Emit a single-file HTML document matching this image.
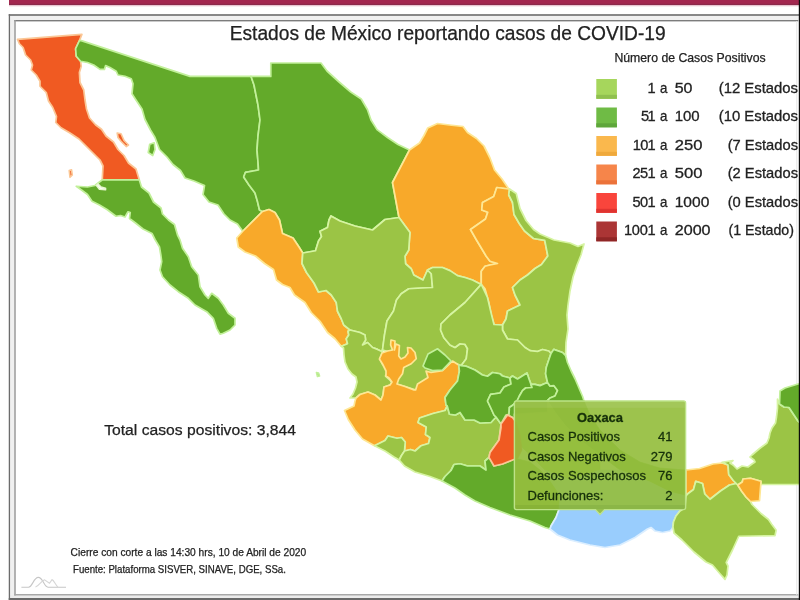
<!DOCTYPE html>
<html><head><meta charset="utf-8"><title>COVID-19 Mexico</title>
<style>
html,body{margin:0;padding:0;background:#fff;}
body{width:800px;height:600px;overflow:hidden;font-family:"Liberation Sans",sans-serif;}
svg{display:block;filter:blur(0.3px)}
text{font-family:"Liberation Sans",sans-serif;}
</style></head><body>
<svg width="800" height="600" viewBox="0 0 800 600">
<defs>
<clipPath id="outTip"><path clip-rule="evenodd" d="M0,0H800V600H0Z M515,401.5H685V509H515Z"/></clipPath>
<clipPath id="inTip"><rect x="514" y="400.5" width="172" height="109.5"/></clipPath>
<filter id="soft" x="-5%" y="-5%" width="110%" height="110%"><feGaussianBlur stdDeviation="0.45"/></filter>
</defs>
<rect width="800" height="600" fill="#fff"/>
<!-- frame -->
<rect x="9" y="0" width="790" height="5" fill="#a3274f"/>
<rect x="9" y="3.8" width="790" height="1.2" fill="#8c2a4b"/>
<rect x="9" y="5" width="790" height="1.3" fill="#e8c6d1"/>
<rect x="10" y="15.5" width="789" height="5" fill="#f0f0f0"/>
<rect x="10" y="15.5" width="4.5" height="583" fill="#f0f0f0"/>
<rect x="10" y="595.3" width="789" height="3" fill="#ececec"/>
<rect x="8.75" y="14.2" width="790.5" height="1.6" fill="#6c6c6c"/>
<rect x="8.75" y="14.2" width="1.3" height="586" fill="#6c6c6c"/>
<rect x="14.25" y="20" width="784" height="1.4" fill="#7c7c7c"/>
<rect x="14.25" y="20" width="1.5" height="575.5" fill="#9a9a9a"/>
<rect x="14.25" y="594" width="784" height="1.5" fill="#a8a8a8"/>
<rect x="8.75" y="598" width="791" height="2" fill="#6a6a6a"/>
<rect x="796.3" y="21" width="1" height="574" fill="#e6e6e6"/>
<!-- map -->
<g stroke-width="1.7" stroke-linejoin="round" filter="url(#soft)" clip-path="url(#outTip)">
<polygon points="17.5,39.4 81.9,34.4 79.4,40.6 75.6,48.75 76.25,56.25 80.6,61.25 81.25,66.25 79.4,72.5 80,82.5 83.75,90 85,100 86.5,109 89.5,118 95.5,124.75 101.5,129.25 106,136 113.5,142 118,149.5 124,155.5 128.5,163 136,169 139.25,179.8 102.25,179.8 103,166 100,160 92.5,152.5 86.5,146.5 79,139 70,133 61,127.75 55.75,122.5 56.5,116.5 52.75,107.5 48.5,101 46.25,92.5 40,86.25 40,81.25 36.25,75 31.25,70 32.5,65 30.6,60 25.6,55 23.1,47.5 19.4,43.75" fill="#f05a24" stroke="#fbc796"/>
<polygon points="81.25,40.6 190,76.4 251,76.3 254,85 258,105 260,120 258,136 257,150 258,162 258.5,170 245.5,172.3 243.7,177 249,185 255,193 257.5,201.5 259.5,210 262.5,211.5 242.75,231.25 237.5,224 230,220 224,214 218,205 209,202 203,194.5 204.5,185.5 194,181 185,178 180.5,170.5 173,164.5 167,157 159.5,149.5 155,137.5 150.5,130 145,119.5 142,109 136,100 132,93.75 133,83.75 131.25,78.75 125,76.25 118,75 116.25,71.25 110,67.5 105.6,65.6 104.4,69.4 100,69.4 93.75,65 87.5,62.5 80.6,61.25 76.25,56.25 75.6,48.75 79.4,40.6" fill="#63aa2a" stroke="#c2f09a"/>
<polygon points="251,76.3 270.8,76.4 270.8,63 321,63 327,71 338.5,81.5 350.75,92 361.25,99 367.4,109.5 371,120 377,129.6 387.5,137.5 398,144.5 409.5,150 392.5,182.5 399,217.5 385,219.5 372.5,230 355,226 340,221 331,216 329,220 327.5,227.5 320,231.25 321.5,236.5 318.5,241 315.5,250.75 302.75,253 299,247 293,238 282.5,233.5 279.5,220 275,212.5 269,209.5 262.5,211.5 262.5,211.5 259.5,210 257.5,201.5 255,193 249,185 243.7,177 245.5,172.3 258.5,170 258,162 257,150 258,136 260,120 258,105 254,85 251,76.3" fill="#63aa2a" stroke="#c2f09a"/>
<polygon points="409.5,150 419.5,143 424,135.5 427.75,128 437.5,123.5 449.5,125 463,126.5 467.5,132.5 476.5,138.5 484,146 490,158 494.5,170 502,179 508.75,189 496.75,187.5 493.75,196.5 482.5,202.5 481.75,210 487.75,212.25 485.5,219 470.5,229.5 476.5,240 482.5,250 486.25,256.25 490,261.25 497.5,263.5 490,265 485,266.25 481.25,271.25 481.25,284.4 472.5,280 465,277.5 457.5,275.6 450,270.6 442.5,267.5 432.5,267.5 427.5,270 423,280 413.75,275 411.25,268.75 405.6,263.75 405,256.25 408.75,250 409.4,240 410,232.5 399,217.5 392.5,182.5" fill="#f8a92a" stroke="#fee794"/>
<polygon points="508.75,189 509.5,189 508.75,195 512.5,202.5 514,214.5 519.25,223.5 524.5,231 533.5,238.5 544.75,240.3 547.8,256 541.5,264.5 535,268.5 527.5,275 520,280 512.5,287.5 515,295 520,305 507.5,311 506,319 502.5,325 494,324.5 491.25,315 488.75,302.5 485,288.75 481.25,284.4 481.25,284.4 481.25,271.25 485,266.25 490,265 497.5,263.5 490,261.25 486.25,256.25 482.5,250 476.5,240 470.5,229.5 485.5,219 487.75,212.25 481.75,210 482.5,202.5 493.75,196.5 496.75,187.5 508.75,189" fill="#f8a92a" stroke="#fee794"/>
<polygon points="509.5,189 516.25,193.5 520,208.5 526,220.5 533.5,229.5 540,234 554,240 570,243 578,246.5 584,244 581,255 577,265 573,277 570,291 568,305 567,315 568,329 566,342.5 565.6,355.6 562.5,352.5 553.75,349.4 551,353.5 548.75,351 542.5,349.5 537.5,351.5 530,350.6 525,347.5 517.5,340 507.5,339 502.5,330 502.5,325 502.5,325 506,319 507.5,311 520,305 515,295 512.5,287.5 520,280 527.5,275 535,268.5 541.5,264.5 547.8,256 544.75,240.3 533.5,238.5 524.5,231 519.25,223.5 514,214.5 512.5,202.5 508.75,195" fill="#9bc444" stroke="#d6f4a2"/>
<polygon points="242.75,231.25 262.5,211.5 269,209.5 275,212.5 279.5,220 282.5,233.5 293,238 299,247 302.75,253 302,263.5 306.5,272.5 314,283 318.5,292 326,290.5 331.25,295 336.25,302.5 337.5,311.25 341.25,318.75 343.75,325 350,330 348,331.25 348.75,335 346.25,338.75 347.5,343.75 341.25,346.25 335,338.75 327.5,332.5 320,321.25 311.25,312.5 305,302.5 294.5,295 290,287.5 282.5,284.5 276.5,280 273.5,269.5 264.5,263.5 255.5,256 245,252 238.25,247 236.75,238" fill="#f8a92a" stroke="#fee794"/>
<polygon points="302.75,253 315.5,250.75 318.5,241 321.5,236.5 320,231.25 327.5,227.5 329,220 331,216 340,221 355,226 372.5,230 385,219.5 399,217.5 410,232.5 409.4,240 408.75,250 405,256.25 405.6,263.75 411.25,268.75 413.75,275 423,280 427.5,270 431.25,273.75 432.5,287.5 422.5,288 408.75,288.75 401.25,293.75 396.5,300 393.5,311 387,321 384.5,335 382.5,350 381.25,351.25 377.5,349.4 372.5,347.5 367.5,342.5 362.5,345 365.6,340 365,335 360,332.5 350,330 350,330 343.75,325 341.25,318.75 337.5,311.25 336.25,302.5 331.25,295 326,290.5 318.5,292 314,283 306.5,272.5 302,263.5 302.75,253" fill="#9bc444" stroke="#d6f4a2"/>
<polygon points="427.5,270 432.5,267.5 442.5,267.5 450,270.6 457.5,275.6 465,277.5 472.5,280 481.25,284.4 465,302.5 450,315 441,324 440.6,330 443.75,337.5 450,345 455,347.5 460,343.75 465,344.4 467.5,348.75 466.25,358.75 461.25,365.6 452.5,362.5 442.5,371 430,372.5 427.5,379 420,384 416,390 405,386.5 397,384 390,352 382.5,350 384.5,335 387,321 393.5,311 396.5,300 401.25,293.75 408.75,288.75 422.5,288 432.5,287.5 431.25,273.75 427.5,270" fill="#9bc444" stroke="#d6f4a2"/>
<polygon points="481.25,284.4 487.5,297.5 491,312.5 494,324.5 502.5,325 502.5,330 507.5,339 517.5,340 525,347.5 530,350.6 537.5,351.5 542.5,349.5 548.75,351 551,353.5 548.75,360 546.25,367.5 545.6,373.75 547.5,382.5 545,383.5 540,385.6 535,384.4 531,384.4 529,379 527,373 517.5,379 512.5,376 510,378 502.5,376 500,373.75 492.5,372.5 487.5,376.25 482.5,375 475,370 466.25,366.25 461.25,365.6 461.25,365.6 466.25,358.75 467.5,348.75 465,344.4 460,343.75 455,347.5 450,345 443.75,337.5 440.6,330 441,324 450,315 465,302.5 481.25,284.4" fill="#9bc444" stroke="#d6f4a2"/>
<polygon points="341.25,346.25 347.5,343.75 346.25,338.75 348.75,335 348,331.25 350,330 360,332.5 365,335 365.6,340 362.5,345 367.5,342.5 372.5,347.5 377.5,349.4 381.25,351.25 382.5,350 382,353 380,359 382.5,364 386,367 387,373 385.5,376 390,380 392,383 390,385 384,387 383,395 381,400 375,395 368,392 360,394.5 356,398 350,398 353,394 355.5,388 357,382 356,377 352,374 348,369 345,362 344,355 343.5,348" fill="#9bc444" stroke="#d6f4a2"/>
<polygon points="356,398 360,394.5 368,392 375,395 381,400 383,395 384,387 390,385 392,382 389,378 386,376 386,371 382.5,364 379.4,359 382,353 387.5,351 392.5,350 390.6,345 391,340 395,341 394.4,350 396,344 399.4,345.6 398.75,356 401,359 405,357 408,353 407.5,347.5 411,348 415,352.5 416.25,358.75 411.25,363.75 403.75,367.5 402.5,373.75 398.75,379 397,384 405,386.5 414,390 415.6,390 417.5,384 428,377.5 426,371 431,372.5 442.5,370.6 452.5,361 458.75,365 459.4,371 457.5,381 450,390 445,397.5 446,405 447.25,406 445,410.5 433,413.5 419.5,418 418,422.5 426.25,427 425.5,434.5 430,437.5 428.5,443.5 421,445.75 415,451 410.5,449.5 404.5,451 405.25,442 401.5,437.5 397,438.25 388,436 385,440.5 374.5,445.75 362.5,439 355,430 348.25,419.5 344.5,410.5 354,406 355,401" fill="#f8a92a" stroke="#fee794"/>
<polygon points="423,366 428,354 437.5,348.75 445,355 451,361 442.5,370 432.5,370.6 425,368" fill="#63aa2a" stroke="#c2f09a"/>
<polygon points="374.5,445.75 385,440.5 388,436 397,438.25 401.5,437.5 405.25,442 404.5,451 401.5,455.5 399.25,460 394,457 385,451" fill="#9bc444" stroke="#d6f4a2"/>
<polygon points="404.5,451 410.5,449.5 415,451 421,445.75 428.5,443.5 430,437.5 425.5,434.5 426.25,427 418,422.5 419.5,418 433,413.5 445,410.5 447.25,406 449.5,414.25 455.5,415 460,412.5 465,420 474,420 480,423 491,422.5 496,417 501,424 499,440 490,452.5 489,457.5 489,457.5 485,461 486,470 480,466 467.5,466 460,463.75 454,464.5 451,470.5 445,476.5 442,481 430,476.5 415,472 404.5,466 399.25,460 401.5,455.5" fill="#9bc444" stroke="#d6f4a2"/>
<polygon points="461.25,365.6 466.25,366.25 475,370 482.5,375 487.5,376.25 492.5,372.5 500,373.75 502.5,376 510,378 511,384 504,387 500,393 490.6,394.4 487.5,401 490.6,407.5 494,415 496,417 491,422.5 480,423 474,420 465,420 460,412.5 455.5,415 449.5,414.25 447.25,406 446,405 445,397.5 450,390 457.5,381 459.4,371 458.75,365" fill="#63aa2a" stroke="#c2f09a"/>
<polygon points="510,378 512.5,376 517.5,379 527,373 529,379 531,384.4 532,387.5 525.6,388 522.5,390.6 519.4,396 517.5,400 513,405 509.4,407.5 509,414.4 506,415 501,424 496,417 494,415 490.6,407.5 487.5,401 490.6,394.4 500,393 504,387 511,384" fill="#63aa2a" stroke="#c2f09a"/>
<polygon points="532,387.5 531,384.4 535,384.4 540,385.6 545,383.5 547.5,382.5 550,386 553.75,385.6 557.5,390.6 555,396 550,398 547.5,400.6 547.5,412 520,430 516,422 512.5,417.5 507.5,415 509,414.4 509.4,407.5 513,405 517.5,400 519.4,396 522.5,390.6 525.6,388" fill="#63aa2a" stroke="#c2f09a"/>
<polygon points="553.75,349.4 562.5,352.5 565.6,355.6 567.5,362.5 571.25,371.25 575,378.75 578.75,387.5 582.5,396.25 583.75,400 590,415 600,430 620,450 640,462 660,468 686,470 686,496 670,492 650,482 620,470 600,455 580,440 565,425 555,412 547.5,400.6 550,398 555,396 557.5,390.6 553.75,385.6 550,386 547.5,382.5 545.6,373.75 546.25,367.5 548.75,360 551,353.5" fill="#63aa2a" stroke="#c2f09a"/>
<polygon points="547.5,400.6 555,412 565,425 580,440 600,455 600,470 570,480 545,470 530,455 514.5,440 514.5,414 547.5,412" fill="#9bc444" stroke="#d6f4a2"/>
<polygon points="442,481 445,476.5 451,470.5 454,464.5 460,463.75 467.5,466 480,466 486,470 485,461 489,457.5 491,460 494,466 502.5,464 510,461 514.5,458 530,462 540,470 550,480 560,495 559,509.5 556,517.5 551,526 550,529 545,527.5 530,521 510,515 490,507.5 475,501 465,495 455,488" fill="#63aa2a" stroke="#c2f09a"/>
<polygon points="550,529 551,526 556,517.5 559,509.5 560,495 550,480 545,470 570,480 600,470 620,470 650,482 670,492 686,496 685,508 680,511 676,516 673.5,522 673,527 672,529 670,531 662.5,532.5 655,531 651,527.5 647.5,529 635,537.5 620,545 605,547.5 590,545 570,540 557.5,535" fill="#99cdfd" stroke="#dbeeff"/>
<polygon points="507.5,415 512.5,417.5 516,422 520,435 522,450 518,458 510,461 502.5,464 494,466 489,457.5 490,452.5 499,440 501,427.5 501,424" fill="#f05a24" stroke="#fbc796"/>
<polygon points="686,470 699.5,468.5 713,464 722,463 728,465 728.75,474.5 733.25,480.5 736.25,483.5 729.5,485 720.5,491 710,499.25 704.75,494 702.5,483.5 695.75,481.25 693.5,489.5 687.5,494 686,496" fill="#f8a92a" stroke="#fee794"/>
<polygon points="686,496 687.5,494 693.5,489.5 695.75,481.25 702.5,483.5 704.75,494 710,499.25 720.5,491 729.5,485 736.25,483.5 737.75,485 741.5,491 746,497 750.5,501.5 752,504.5 761,513.5 768.5,519.5 771.5,524 776,530 776,531 775,535.6 738.75,536.25 732.5,550 726.25,562.5 728,566 727,575 725,579.4 720,573.75 712.5,565 706,562 694,552 682,540 674,533 673,527 673.5,522 676,516 680,511 685,508" fill="#9bc444" stroke="#d6f4a2"/>
<polygon points="728,465 722,462.3 733,460.5 730,463 733,465 737,469 742,466 748,467 752,464 755,462 754,460 750,457 752,455 759,449 767,443 769,438 770,433 772,428 775.5,423 776.5,417 777.5,408 777.5,399 779.5,404 784,407 789,407.5 794,415 798,421 801,424 801,484.5 761,484.5 761,481.25 750.5,478.25 743,479 742.25,482 737.75,485 736.25,483.5 733.25,480.5 728.75,474.5" fill="#9bc444" stroke="#d6f4a2"/>
<polygon points="743,479 750.5,478.25 761,481.25 759.5,500.75 750.5,501.5 746,497 741.5,491 737.75,485 742.25,482" fill="#f8a92a" stroke="#fee794"/>
<polygon points="780,391 785,388 798,384 801,383.5 801,424 798,421 794,415 789,407.5 784,407 779.5,404" fill="#63aa2a" stroke="#c2f09a"/>
<polygon points="102.5,179.8 139.25,179.8 141.5,187 149,193 153.5,202 161,208 162.5,214 168.5,220 174.5,224.5 177.5,235 180,240 182.5,248.3 188.3,256.7 191.7,266.7 198.3,275 200,286.7 205,295 208.3,298.3 211.7,293.3 218.3,298.3 223.3,305 228.3,313.3 235,318.3 235,325 230,330 223.3,333.3 220,334.2 216.7,328.3 213.3,318.3 206.7,311.7 195,305 188.3,298.3 178.3,291.7 170,285 162.5,276.7 160,270 161.7,261.7 161,256 159.5,247 155,239.5 152,233.5 143,229 135.5,223 129.5,218.5 130.25,212.5 128,211.75 125,217 120.5,215.5 116,216.25 107,209.5 99.5,205 92,201.25 87.5,194.5 81.5,190 76.25,186.25 87.5,187 95,185.5 98.75,182.5" fill="#63aa2a" stroke="#c2f09a"/>
<polygon points="98,184 101,187 105.5,188.2 105.5,189.7 99.5,189.25 96.5,185.5" fill="#ffffff" stroke="#e8f6d0"/>
<polygon points="117.25,133 121,133.75 124,140.5 128.5,145 126.25,146.5 121,141.25 118,137.5" fill="#f05a24" stroke="#fbc796"/>
<polygon points="148.25,152.5 149.75,144.25 154.25,142.75 155,149.5 152.75,155.5" fill="#63aa2a" stroke="#c2f09a"/>
<polygon points="69.25,170.5 71.5,169.75 72.25,175 70,177.25" fill="#f05a24" stroke="#fbc796"/>
<polygon points="316.5,372.5 318.5,373 319.5,376 317.5,376.5" fill="#63aa2a" stroke="#c2f09a"/>
</g>
<g stroke-width="0.6" clip-path="url(#inTip)">
<polygon points="532,387.5 531,384.4 535,384.4 540,385.6 545,383.5 547.5,382.5 550,386 553.75,385.6 557.5,390.6 555,396 550,398 547.5,400.6 547.5,412 520,430 516,422 512.5,417.5 507.5,415 509,414.4 509.4,407.5 513,405 517.5,400 519.4,396 522.5,390.6 525.6,388" fill="#63aa2a" stroke="#63aa2a"/>
<polygon points="553.75,349.4 562.5,352.5 565.6,355.6 567.5,362.5 571.25,371.25 575,378.75 578.75,387.5 582.5,396.25 583.75,400 590,415 600,430 620,450 640,462 660,468 686,470 686,496 670,492 650,482 620,470 600,455 580,440 565,425 555,412 547.5,400.6 550,398 555,396 557.5,390.6 553.75,385.6 550,386 547.5,382.5 545.6,373.75 546.25,367.5 548.75,360 551,353.5" fill="#63aa2a" stroke="#63aa2a"/>
<polygon points="547.5,400.6 555,412 565,425 580,440 600,455 600,470 570,480 545,470 530,455 514.5,440 514.5,414 547.5,412" fill="#9bc444" stroke="#9bc444"/>
<polygon points="442,481 445,476.5 451,470.5 454,464.5 460,463.75 467.5,466 480,466 486,470 485,461 489,457.5 491,460 494,466 502.5,464 510,461 514.5,458 530,462 540,470 550,480 560,495 559,509.5 556,517.5 551,526 550,529 545,527.5 530,521 510,515 490,507.5 475,501 465,495 455,488" fill="#63aa2a" stroke="#63aa2a"/>
<polygon points="550,529 551,526 556,517.5 559,509.5 560,495 550,480 545,470 570,480 600,470 620,470 650,482 670,492 686,496 685,508 680,511 676,516 673.5,522 673,527 672,529 670,531 662.5,532.5 655,531 651,527.5 647.5,529 635,537.5 620,545 605,547.5 590,545 570,540 557.5,535" fill="#99cdfd" stroke="#99cdfd"/>
<polygon points="507.5,415 512.5,417.5 516,422 520,435 522,450 518,458 510,461 502.5,464 494,466 489,457.5 490,452.5 499,440 501,427.5 501,424" fill="#f05a24" stroke="#f05a24"/>
<polygon points="686,470 699.5,468.5 713,464 722,463 728,465 728.75,474.5 733.25,480.5 736.25,483.5 729.5,485 720.5,491 710,499.25 704.75,494 702.5,483.5 695.75,481.25 693.5,489.5 687.5,494 686,496" fill="#f8a92a" stroke="#f8a92a"/>
<polygon points="686,496 687.5,494 693.5,489.5 695.75,481.25 702.5,483.5 704.75,494 710,499.25 720.5,491 729.5,485 736.25,483.5 737.75,485 741.5,491 746,497 750.5,501.5 752,504.5 761,513.5 768.5,519.5 771.5,524 776,530 776,531 775,535.6 738.75,536.25 732.5,550 726.25,562.5 728,566 727,575 725,579.4 720,573.75 712.5,565 706,562 694,552 682,540 674,533 673,527 673.5,522 676,516 680,511 685,508" fill="#9bc444" stroke="#9bc444"/>
</g>
<g fill="#222" stroke="#222" stroke-width="0.25">
<text x="229.7" y="40.2" font-size="19.3" textLength="436" lengthAdjust="spacingAndGlyphs" id="title">Estados de México reportando casos de COVID-19</text>
<text x="614.4" y="61.7" font-size="12.1" textLength="151.2" lengthAdjust="spacingAndGlyphs" id="leghead">Número de Casos Positivos</text>
<text x="104.2" y="435.4" font-size="15.4" textLength="191.8" lengthAdjust="spacingAndGlyphs" id="total">Total casos positivos: 3,844</text>
<text x="70.6" y="556.3" font-size="10.2" textLength="235.6" lengthAdjust="spacingAndGlyphs" id="cierre">Cierre con corte a las 14:30 hrs, 10 de Abril de 2020</text>
<text x="73" y="573" font-size="10.2" textLength="212.9" lengthAdjust="spacingAndGlyphs" id="fuente">Fuente: Plataforma SISVER, SINAVE, DGE, SSa.</text>
</g>
<g id="legend" fill="#222" stroke="#222" stroke-width="0.3">
<rect x="596.3" y="79" width="20.6" height="19.8" fill="#a6d65c" stroke="none"/><rect x="596.3" y="94.8" width="20.6" height="4" fill="#90c04f" stroke="none"/>
<text x="655.6" y="92.7" font-size="14.6" text-anchor="end">1</text><text x="660" y="92.7" font-size="14.6" textLength="7.4" lengthAdjust="spacingAndGlyphs">a</text><text x="674.7" y="92.7" font-size="14.6" textLength="17.8" lengthAdjust="spacingAndGlyphs">50</text><text x="718.7" y="92.7" font-size="14.6" textLength="79.3" lengthAdjust="spacingAndGlyphs">(12 Estados</text>
<rect x="596.3" y="107.5" width="20.6" height="19.8" fill="#6fbb45" stroke="none"/><rect x="596.3" y="123.3" width="20.6" height="4" fill="#5ea63b" stroke="none"/>
<text x="640.9" y="121.2" font-size="14.6" textLength="14.700000000000001" lengthAdjust="spacing">51</text><text x="660" y="121.2" font-size="14.6" textLength="7.4" lengthAdjust="spacingAndGlyphs">a</text><text x="674.7" y="121.2" font-size="14.6" textLength="25" lengthAdjust="spacingAndGlyphs">100</text><text x="718.7" y="121.2" font-size="14.6" textLength="79.3" lengthAdjust="spacingAndGlyphs">(10 Estados</text>
<rect x="596.3" y="136" width="20.6" height="19.8" fill="#fab84d" stroke="none"/><rect x="596.3" y="151.8" width="20.6" height="4" fill="#efa93c" stroke="none"/>
<text x="632.8" y="149.7" font-size="14.6" textLength="22.8" lengthAdjust="spacing">101</text><text x="660" y="149.7" font-size="14.6" textLength="7.4" lengthAdjust="spacingAndGlyphs">a</text><text x="674.7" y="149.7" font-size="14.6" textLength="27.7" lengthAdjust="spacingAndGlyphs">250</text><text x="727.7" y="149.7" font-size="14.6" textLength="70.3" lengthAdjust="spacingAndGlyphs">(7 Estados</text>
<rect x="596.3" y="164.5" width="20.6" height="19.8" fill="#f6854a" stroke="none"/><rect x="596.3" y="180.3" width="20.6" height="4" fill="#eb723a" stroke="none"/>
<text x="632.4" y="178.2" font-size="14.6" textLength="23.2" lengthAdjust="spacing">251</text><text x="660" y="178.2" font-size="14.6" textLength="7.4" lengthAdjust="spacingAndGlyphs">a</text><text x="674.7" y="178.2" font-size="14.6" textLength="27.7" lengthAdjust="spacingAndGlyphs">500</text><text x="727.7" y="178.2" font-size="14.6" textLength="70.3" lengthAdjust="spacingAndGlyphs">(2 Estados</text>
<rect x="596.3" y="193" width="20.6" height="19.8" fill="#f9453c" stroke="none"/><rect x="596.3" y="208.8" width="20.6" height="4" fill="#e03430" stroke="none"/>
<text x="632.4" y="206.7" font-size="14.6" textLength="23.2" lengthAdjust="spacing">501</text><text x="660" y="206.7" font-size="14.6" textLength="7.4" lengthAdjust="spacingAndGlyphs">a</text><text x="674.7" y="206.7" font-size="14.6" textLength="34.6" lengthAdjust="spacingAndGlyphs">1000</text><text x="727.7" y="206.7" font-size="14.6" textLength="70.3" lengthAdjust="spacingAndGlyphs">(0 Estados</text>
<rect x="596.3" y="221.5" width="20.6" height="19.8" fill="#ab3535" stroke="none"/><rect x="596.3" y="237.3" width="20.6" height="4" fill="#8f2626" stroke="none"/>
<text x="624.0" y="235.2" font-size="14.6" textLength="31.6" lengthAdjust="spacing">1001</text><text x="660" y="235.2" font-size="14.6" textLength="7.4" lengthAdjust="spacingAndGlyphs">a</text><text x="674.7" y="235.2" font-size="14.6" textLength="35.9" lengthAdjust="spacingAndGlyphs">2000</text><text x="728.5" y="235.2" font-size="14.6" textLength="65.5" lengthAdjust="spacingAndGlyphs">(1 Estado)</text>
</g>
<g id="tooltip">
<path d="M516.5,401 H683.5 Q685.6,401 685.6,403 V507.5 Q685.6,509.6 683.5,509.6 H604.5 L600,514.5 L595.5,509.6 H516.5 Q514.4,509.6 514.4,507.5 V403 Q514.4,401 516.5,401 Z" fill="rgb(149,190,62)" fill-opacity="0.92" stroke="#bde388" stroke-width="1.4"/>
<rect x="515.2" y="401.8" width="169.6" height="6" fill="#ffffff" opacity="0.07"/>
<rect x="515.2" y="505" width="169.6" height="4" fill="#3c6a10" opacity="0.10"/>
<g fill="#16300a" font-size="13" stroke="#16300a" stroke-width="0.3">
<text x="600" y="422.2" text-anchor="middle" font-weight="bold" font-size="13" textLength="46" lengthAdjust="spacingAndGlyphs">Oaxaca</text>
<text x="527.5" y="441.2">Casos Positivos</text><text x="672.5" y="441.2" text-anchor="end">41</text>
<text x="527.5" y="460.8">Casos Negativos</text><text x="672.5" y="460.8" text-anchor="end">279</text>
<text x="527.5" y="480.4">Casos Sospechosos</text><text x="672.5" y="480.4" text-anchor="end">76</text>
<text x="527.5" y="500">Defunciones:</text><text x="672.5" y="500" text-anchor="end">2</text>
</g></g>
<g stroke="#c6c6c6" stroke-width="1.1" fill="none" filter="url(#soft)">
<path d="M21.4,587.2 H28.5 C32.5,587.2 33.5,577.4 38.3,577.4 C43,577.4 44,587.2 48,587.2 H66"/>
<path d="M35.5,587 C39,586 41,581 44.5,579.8 L49.5,583.2 L52,579.6 C54,580 55.5,585.5 58,587.2" stroke="#d6d6d6"/>
</g>
<rect x="798.8" y="0" width="1.2" height="600" fill="#0c0c0c"/>
</svg>
</body></html>
